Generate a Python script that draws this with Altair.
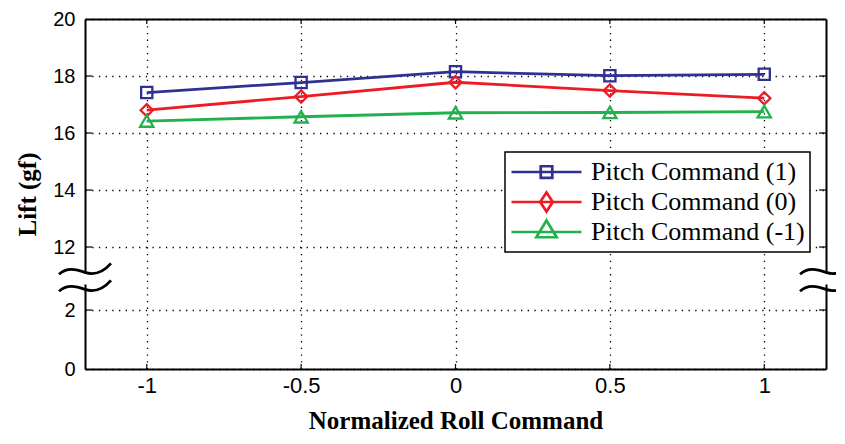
import altair as alt
import pandas as pd

# ---- data ----
roll = [-1, -0.5, 0, 0.5, 1]
lift_pitch_pos = [17.42, 17.77, 18.15, 18.01, 18.06]
lift_pitch_zero = [16.80, 17.28, 17.78, 17.49, 17.22]
lift_pitch_neg = [16.42, 16.57, 16.71, 16.72, 16.75]
series_names = ["Pitch Command (1)", "Pitch Command (0)", "Pitch Command (-1)"]

x_ticks = [-1, -0.5, 0, 0.5, 1]
y_ticks = [0, 2, 12, 14, 16, 18, 20]
x_domain = [-1.2, 1.2]
y_domain = [0, 2, 12, 20]          # broken axis: 2 -> 12 is compressed
break_marks = [8.5, 5.8]           # where the break squiggles sit
break_gap = [7.75, 6.05]           # gap in the frame between squiggles

# ---- styles ----
series_colors = ["#2E3192", "#ED1C24", "#22B14C"]
marker_shapes = ["square", "diamond", "triangle-up"]
marker_sizes = [125, 175, 240]
y_range = [350, 291, 228, 0]
tick_dx = 0.0227                   # inward tick length on the side frames (x units)
tick_dy_low, tick_dy_high = 0.17, 0.175  # inward tick length on bottom / top frames
SANS = "Liberation Sans, Arial"
SERIF = "Liberation Serif, Times New Roman"
squiggle = "M-1,0.2 C-0.7,-0.08 -0.35,0.0 0,0.13 C0.4,0.26 0.7,0.12 1,-0.22"
legend_sym = (
    "datum.index === 0 ? 'M-1,0H1M-0.165,-0.165H0.165V0.165H-0.165Z' : "
    "datum.index === 1 ? 'M-1,0H1M0,-0.27L0.18,0L0,0.27L-0.18,0Z' : "
    "'M-1,0H1M0,-0.33L0.29,0.15L-0.29,0.15Z'"
)

rows = []
for name, vals in zip(series_names, [lift_pitch_pos, lift_pitch_zero, lift_pitch_neg]):
    for xv, v in zip(roll, vals):
        rows.append({"roll": xv, "lift": v, "series": name})
df = pd.DataFrame(rows)
brk = pd.DataFrame([{"x": e, "y": m} for e in x_domain for m in break_marks])
gap = pd.DataFrame([{"x": e, "y": break_gap[0], "y2": break_gap[1]} for e in x_domain])

side_ticks = []
for yv in y_ticks[1:-1]:
    side_ticks.append({"x": x_domain[0], "x2": x_domain[0] + tick_dx, "y": yv})
    side_ticks.append({"x": x_domain[1], "x2": x_domain[1] - tick_dx, "y": yv})
side_ticks = pd.DataFrame(side_ticks)
end_ticks = []
for xv in x_ticks:
    end_ticks.append({"x": xv, "y": y_domain[0], "y2": y_domain[0] + tick_dy_low})
    end_ticks.append({"x": xv, "y": y_domain[-1], "y2": y_domain[-1] - tick_dy_high})
end_ticks = pd.DataFrame(end_ticks)

xs = alt.Scale(domain=x_domain, nice=False, zero=False)
ys = alt.Scale(domain=y_domain, range=y_range, nice=False, zero=False)

bottom_axis = alt.Axis(
    orient="bottom", values=x_ticks, labelExpr="datum.value + ''",
    title="Normalized Roll Command", titleFont=SERIF, titleFontSize=25,
    titleFontWeight="bold", titlePadding=12, labelFont=SANS, labelFontSize=22,
    labelPadding=6, ticks=False, grid=True, labelFlush=False,
)
left_axis = alt.Axis(
    orient="left", values=y_ticks, title="Lift (gf)", titleFont=SERIF,
    titleFontSize=25, titleFontWeight="bold", titlePadding=12,
    labelFont=SANS, labelFontSize=20, labelPadding=10, ticks=False, grid=True,
)
top_axis = alt.Axis(orient="top", labels=False, ticks=False, grid=False, title="")
right_axis = alt.Axis(orient="right", labels=False, ticks=False, grid=False, title="")

color = alt.Color(
    "series:N",
    scale=alt.Scale(domain=series_names, range=series_colors),
    legend=alt.Legend(
        title=None, orient="none", legendX=420, legendY=133,
        symbolType={"expr": legend_sym}, symbolSize=4900, symbolStrokeWidth=2.7,
        symbolFillColor="transparent", clipHeight=30, rowPadding=0, padding=5,
        labelFont=SERIF, labelFontSize=26, labelOffset=8, labelLimit=400,
        labelColor="black", strokeColor="black", fillColor="white",
    ),
)

lines = alt.Chart(df).mark_line(strokeWidth=2.8).encode(
    x=alt.X("roll:Q", scale=xs, axis=bottom_axis),
    y=alt.Y("lift:Q", scale=ys, axis=left_axis),
    color=color,
)

points = alt.Chart(df).mark_point(filled=False, strokeWidth=2.3, opacity=1).encode(
    x=alt.X("roll:Q", scale=xs, axis=None),
    y=alt.Y("lift:Q", scale=ys, axis=None),
    color=alt.Color("series:N", scale=alt.Scale(domain=series_names, range=series_colors), legend=None),
    shape=alt.Shape("series:N", scale=alt.Scale(domain=series_names, range=marker_shapes), legend=None),
    size=alt.Size("series:N", scale=alt.Scale(domain=series_names, range=marker_sizes), legend=None),
)

gaps = alt.Chart(gap).mark_rule(color="white", strokeWidth=7).encode(
    x=alt.X("x:Q", scale=xs, axis=top_axis),
    y=alt.Y("y:Q", scale=ys, axis=right_axis),
    y2="y2:Q",
)

squiggles = alt.Chart(brk).mark_point(
    shape=squiggle, size=2700, filled=False, color="black", strokeWidth=2.8, opacity=1
).encode(
    x=alt.X("x:Q", scale=xs, axis=None),
    y=alt.Y("y:Q", scale=ys, axis=None),
)

side_tick_marks = alt.Chart(side_ticks).mark_rule(color="black", strokeWidth=1.2).encode(
    x=alt.X("x:Q", scale=xs, axis=None), x2="x2:Q",
    y=alt.Y("y:Q", scale=ys, axis=None),
)
end_tick_marks = alt.Chart(end_ticks).mark_rule(color="black", strokeWidth=1.2).encode(
    x=alt.X("x:Q", scale=xs, axis=None),
    y=alt.Y("y:Q", scale=ys, axis=None), y2="y2:Q",
)

chart = (
    alt.layer(side_tick_marks, end_tick_marks, lines, points, gaps, squiggles)
    .resolve_axis(x="independent", y="independent")
    .resolve_legend(color="independent", shape="independent", size="independent")
    .properties(
        width=741, height=350,
        padding={"left": 77, "top": 11, "right": 10, "bottom": 66},
        autosize=alt.AutoSizeParams(type="none"),
        background="white",
    )
    .configure_view(stroke=None)
    .configure_axis(
        domainColor="black", domainWidth=2, gridColor="black",
        gridDash=[1.3, 5.4], gridWidth=1.3, gridOpacity=1,
        labelColor="black", titleColor="black",
    )
    .configure_legend(strokeWidth=1.5)
)

chart.save("out.html", embed_options={"renderer": "svg", "actions": False})
